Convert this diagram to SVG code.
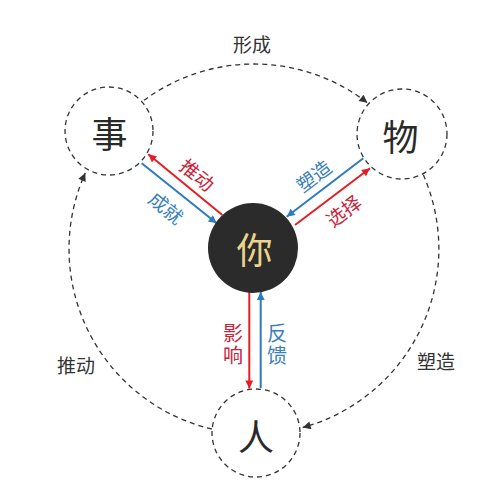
<svg xmlns="http://www.w3.org/2000/svg" width="500" height="500" viewBox="0 0 500 500">
<style>
.node{fill:none;stroke:#333;stroke-width:1.3;stroke-dasharray:5 4}
.big{font-family:"Noto Sans CJK SC","Noto Sans",sans-serif;font-size:36px;fill:#2a2a2a;text-anchor:middle;dominant-baseline:central}
.lbl{font-family:"Noto Sans CJK SC","Noto Sans",sans-serif;font-size:19px;fill:#333;text-anchor:middle;dominant-baseline:central}
.sm{font-family:"Noto Sans CJK SC","Noto Sans",sans-serif;font-size:19px;text-anchor:middle;dominant-baseline:central}
.vt{font-family:"Noto Sans CJK SC","Noto Sans",sans-serif;font-size:20px;text-anchor:middle;dominant-baseline:central;writing-mode:vertical-rl;letter-spacing:2px}
.red{fill:#c8243a}
.blue{fill:#3a7fba}
.arc{fill:none;stroke:#333;stroke-width:1.3;stroke-dasharray:5 4;marker-end:url(#ak)}
.rl{fill:none;stroke:#e31e24;stroke-width:2;marker-end:url(#ar)}
.bl{fill:none;stroke:#2b7bbd;stroke-width:2;marker-end:url(#ab)}
.ni{fill:#ecd48a}
</style>
<defs>
<marker id="ak" viewBox="0 0 10 10" refX="10" refY="5" markerWidth="9" markerHeight="8" markerUnits="userSpaceOnUse" orient="auto"><path d="M0,0 L10,5 L0,10 z" fill="#333"/></marker>
<marker id="ar" viewBox="0 0 10 10" refX="10" refY="5" markerWidth="9" markerHeight="8" markerUnits="userSpaceOnUse" orient="auto"><path d="M0,0 L10,5 L0,10 z" fill="#e31e24"/></marker>
<marker id="ab" viewBox="0 0 10 10" refX="10" refY="5" markerWidth="9" markerHeight="8" markerUnits="userSpaceOnUse" orient="auto"><path d="M0,0 L10,5 L0,10 z" fill="#2b7bbd"/></marker>
</defs>
<rect width="500" height="500" fill="#fff"/>
<g id="connectors">
<path class="arc" d="M144,100.3 A185,185 0 0 1 367.4,102.8"/>
<path class="arc" d="M211.8,429 A185,185 0 0 1 85.3,173"/>
<path class="arc" d="M423.3,174.8 A185,185 0 0 1 302.7,427.5"/>
<path class="rl" d="M222.3,215 L148.3,154.3"/>
<path class="bl" d="M141.7,163.3 L216.7,223.3"/>
<path class="bl" d="M363.3,158.3 L286.7,216.7"/>
<path class="rl" d="M295,225 L370,168.3"/>
<path class="rl" d="M249.3,292 L249.3,388.5"/>
<path class="bl" d="M260.7,388 L260.7,292"/>
<text class="lbl" x="252" y="43">形成</text>
<text class="lbl" x="76" y="364">推动</text>
<text class="lbl" x="436" y="360">塑造</text>
<text class="sm red" transform="translate(198,174) rotate(39.4)">推动</text>
<text class="sm blue" transform="translate(167,207) rotate(39.4)">成就</text>
<text class="sm blue" transform="translate(313,175) rotate(-37)">塑造</text>
<text class="sm red" transform="translate(343,210) rotate(-37)">选择</text>
<text class="vt red" x="233" y="345">影响</text>
<text class="vt blue" x="277" y="345">反馈</text>
</g>
<g id="node-shi"><circle class="node" cx="109" cy="131" r="44"/><text class="big" x="109.5" y="132">事</text></g>
<g id="node-wu"><circle class="node" cx="402" cy="134" r="45"/><text class="big" x="400.5" y="135">物</text></g>
<g id="node-ren"><circle class="node" cx="256" cy="433" r="44"/><text class="big" x="256" y="435">人</text></g>
<g id="node-ni"><circle cx="253" cy="248" r="45" fill="#2b2b2b"/><text class="big ni" x="254.5" y="248">你</text></g>
</svg>
